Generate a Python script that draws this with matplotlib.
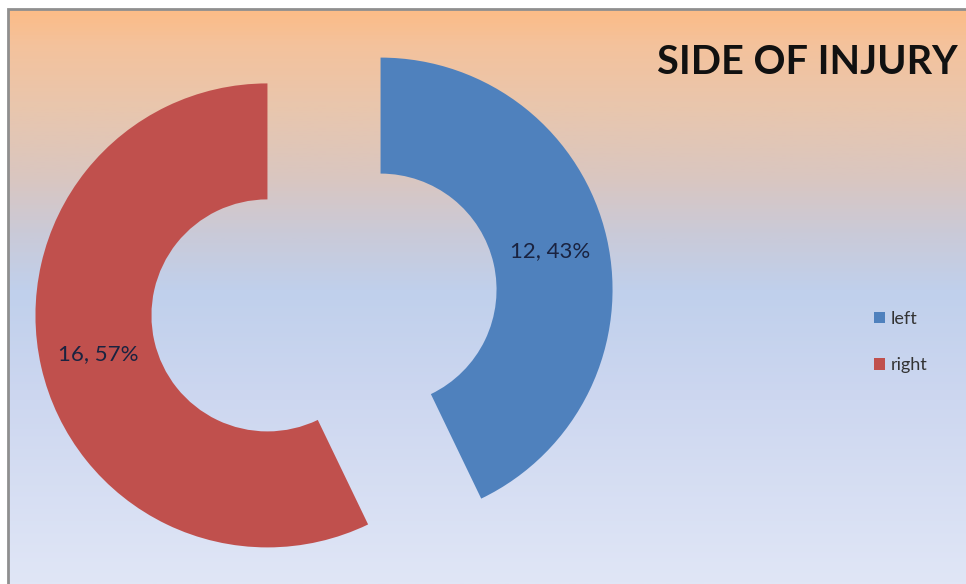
import numpy as np
import matplotlib
matplotlib.use("Agg")
import matplotlib.pyplot as plt
from matplotlib.colors import LinearSegmentedColormap
from matplotlib.patches import Rectangle

# data
sides = ["left", "right"]
counts = [12, 16]
colors = ["#4F81BD", "#C0504D"]
title = "SIDE OF INJURY"

W, H = 966, 584
plt.rcParams["font.family"] = ["Lato", "DejaVu Sans"]

fig = plt.figure(figsize=(W / 100, H / 100), dpi=100)
ax = fig.add_axes([0, 0, 1, 1])

# background gradient (top peach -> light blue)
stops = [
    (0.00, (252, 188, 135)),
    (0.06, (244, 194, 156)),
    (0.16, (234, 198, 172)),
    (0.29, (218, 198, 192)),
    (0.39, (202, 202, 216)),
    (0.49, (192, 208, 236)),
    (0.68, (205, 215, 240)),
    (1.00, (224, 230, 246)),
]
cmap = LinearSegmentedColormap.from_list(
    "bg", [(p, tuple(c / 255 for c in rgb)) for p, rgb in stops])
grad = np.linspace(0, 1, 400).reshape(-1, 1)
ax.imshow(grad, cmap=cmap, aspect="auto", extent=(8, W, 0, H - 9),
          origin="upper", zorder=0)

# frame lines on top/left
ax.add_patch(Rectangle((8, -5), W + 10, H - 9 + 5, fill=False,
                       edgecolor="#8f8f8f", linewidth=2, zorder=3))

R = 232
total = sum(counts)
wedges, texts, autotexts = ax.pie(
    counts, colors=colors, startangle=90, counterclock=False,
    explode=[0.25 * R, 0.25 * R], radius=R, center=(324, H - 302.5),
    wedgeprops=dict(width=R / 2, edgecolor="none"),
    autopct=lambda p: f"{round(p * total / 100)}, {p:.0f}%",
    pctdistance=0.75, frame=True,
    textprops=dict(fontsize=16, color="#1a2340"))

ax.set_xlim(0, W)
ax.set_ylim(0, H)
ax.set_aspect("auto")
ax.axis("off")

fig.text(807 / W, 1 - 63 / H, title, fontsize=28.5, fontweight="bold",
         color="#111111", ha="center", va="center")

fig.legend(wedges, sides, loc="center left",
           bbox_to_anchor=(858 / W, 1 - 342 / H), frameon=False,
           fontsize=13, handlelength=0.6, handleheight=0.6,
           handletextpad=0.3, labelspacing=1.7, labelcolor="#333333")

fig.savefig("out.png", dpi=100)
